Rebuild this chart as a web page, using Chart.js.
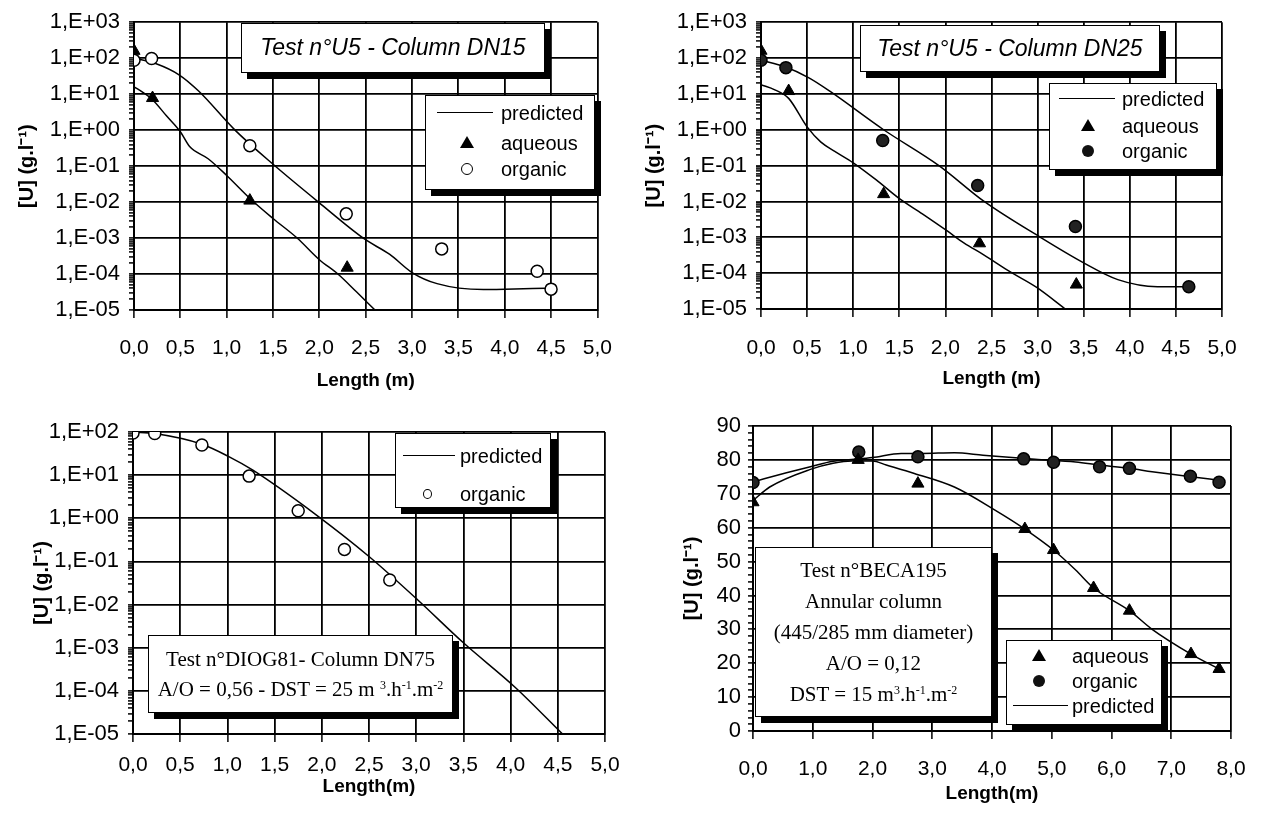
<!DOCTYPE html>
<html lang="en">
<head>
<meta charset="utf-8">
<script src="https://cdn.jsdelivr.net/npm/chart.js@4.4.1/dist/chart.umd.min.js"></script>
<style>
  body { margin: 0; background: #fff; }
  #page { position: relative; width: 1263px; height: 813px; overflow: hidden; font-family: "Liberation Sans", Arial, sans-serif; color: #000; }
  canvas { position: absolute; }
  .box { position: absolute; background: #fff; border: 1.5px solid #000; box-shadow: 6px 6px 0 #000; box-sizing: border-box; }
  .ttl { font-style: italic; font-size: 23px; text-align: center; white-space: nowrap; }
  .serif { font-family: "Liberation Serif", "Times New Roman", serif; font-size: 21px; text-align: center; white-space: nowrap; }
  .row { position: absolute; left: 0; right: 0; height: 0; }
  .row span { position: absolute; top: -12px; font-size: 20px; line-height: 24px; white-space: nowrap; }
  .mk-line { position: absolute; top: -1px; border-top: 1.5px solid #000; }
  .mk-tri { position: absolute; top: -7px; width: 0; height: 0; border-left: 7px solid transparent; border-right: 7px solid transparent; border-bottom: 12px solid #000; margin-left: -7px; }
  .mk-circ { position: absolute; top: -6px; width: 12px; height: 12px; margin-left: -6px; border-radius: 50%; box-sizing: border-box; border: 1.5px solid #000; background: #fff; }
  .mk-dot { position: absolute; top: -6px; width: 12px; height: 12px; margin-left: -6px; border-radius: 50%; background: #111; }
  .mk-o { position: absolute; top: -5px; width: 9px; height: 10px; margin-left: -4px; border-radius: 50%; box-sizing: border-box; border: 1.5px solid #000; }
  sup { font-size: 12px; line-height: 0; vertical-align: 7px; }
</style>
</head>
<body>
<div id="page">
  <canvas id="c1" width="630" height="400" style="left:0;top:0"></canvas>
  <canvas id="c2" width="633" height="400" style="left:630px;top:0"></canvas>
  <canvas id="c3" width="630" height="413" style="left:0;top:400px"></canvas>
  <canvas id="c4" width="633" height="413" style="left:630px;top:400px"></canvas>

  <div class="box ttl" style="left:241px;top:23px;width:304px;height:50px;line-height:47px">Test n°U5 - Column DN15</div>
  <div class="box" style="left:425px;top:95px;width:170px;height:95px">
    <div class="row" style="top:17px"><div class="mk-line" style="left:11px;width:56px"></div><span style="left:75px">predicted</span></div>
    <div class="row" style="top:47px"><div class="mk-tri" style="left:41px"></div><span style="left:75px">aqueous</span></div>
    <div class="row" style="top:73px"><div class="mk-circ" style="left:41px"></div><span style="left:75px">organic</span></div>
  </div>

  <div class="box ttl" style="left:860px;top:25px;width:300px;height:47px;line-height:44px">Test n°U5 - Column DN25</div>
  <div class="box" style="left:1049px;top:83px;width:168px;height:87px">
    <div class="row" style="top:15px"><div class="mk-line" style="left:9px;width:56px"></div><span style="left:72px">predicted</span></div>
    <div class="row" style="top:42px"><div class="mk-tri" style="left:38px"></div><span style="left:72px">aqueous</span></div>
    <div class="row" style="top:67px"><div class="mk-dot" style="left:38px"></div><span style="left:72px">organic</span></div>
  </div>

  <div class="box" style="left:395px;top:433px;width:156px;height:75px">
    <div class="row" style="top:22px"><div class="mk-line" style="left:7px;width:52px"></div><span style="left:64px">predicted</span></div>
    <div class="row" style="top:60px"><div class="mk-o" style="left:31px"></div><span style="left:64px">organic</span></div>
  </div>
  <div class="box serif" style="left:148px;top:635px;width:305px;height:78px;line-height:30px;padding-top:8px">
    Test n°DIOG81- Column DN75<br>A/O = 0,56 - DST = 25 m <sup>3</sup>.h<sup>-1</sup>.m<sup>-2</sup>
  </div>

  <div class="box serif" style="left:755px;top:547px;width:237px;height:170px;line-height:31px;padding-top:7px">
    Test n°BECA195<br>Annular column<br>(445/285 mm diameter)<br>A/O = 0,12<br>DST = 15 m<sup>3</sup>.h<sup>-1</sup>.m<sup>-2</sup>
  </div>
  <div class="box" style="left:1006px;top:640px;width:156px;height:85px">
    <div class="row" style="top:15px"><div class="mk-tri" style="left:32px"></div><span style="left:65px">aqueous</span></div>
    <div class="row" style="top:40px"><div class="mk-dot" style="left:32px"></div><span style="left:65px">organic</span></div>
    <div class="row" style="top:65px"><div class="mk-line" style="left:6px;width:55px"></div><span style="left:65px">predicted</span></div>
  </div>
</div>
<script>
// tick labels
const logTickLabels = ['1,E-05', '1,E-04', '1,E-03', '1,E-02', '1,E-01', '1,E+00', '1,E+01', '1,E+02', '1,E+03'];
const xTickLabels5 = ['0,0', '0,5', '1,0', '1,5', '2,0', '2,5', '3,0', '3,5', '4,0', '4,5', '5,0'];
const xTickLabels8 = ['0,0', '1,0', '2,0', '3,0', '4,0', '5,0', '6,0', '7,0', '8,0'];
const linTickLabels = ['0', '10', '20', '30', '40', '50', '60', '70', '80', '90'];

// Test U5 - DN15
const dn15AqX = [0, 0.2, 1.25, 2.3];
const dn15AqY = [160, 7.8, 0.011, 1.5e-4];
const dn15OrgX = [0, 0.19, 1.25, 2.29, 3.32, 4.35, 4.5];
const dn15OrgY = [87, 98, 0.37, 0.0047, 5e-4, 1.2e-4, 3.8e-5];
const dn15PredOrgX = [0, 0.24, 0.49, 0.7, 1.09, 1.51, 1.99, 2.49, 2.76, 3.0, 3.27, 3.77, 4.44, 4.5];
const dn15PredOrgY = [100, 70, 34, 12, 1.0, 0.107, 0.01, 9.3e-4, 3.5e-4, 1.1e-4, 5.4e-5, 3.7e-5, 4e-5, 3.6e-5];
const dn15PredAqX = [0, 0.1, 0.2, 0.35, 0.5, 0.6, 0.8, 1.0, 1.26, 1.5, 1.76, 2.0, 2.2, 2.4, 2.6];
const dn15PredAqY = [16, 11, 7, 2.5, 0.9, 0.35, 0.16, 0.055, 0.012, 0.0035, 1e-3, 2.5e-4, 1e-4, 3.2e-5, 1e-5];

// Test U5 - DN25
const dn25AqX = [0, 0.3, 1.33, 2.37, 3.42];
const dn25AqY = [160, 12, 0.016, 6.8e-4, 4.8e-5];
const dn25OrgX = [0, 0.27, 1.32, 2.35, 3.41, 4.64];
const dn25OrgY = [87, 54, 0.5, 0.028, 2e-3, 4.2e-5];
const dn25PredOrgX = [0, 0.26, 0.52, 0.75, 1.33, 1.93, 2.42, 3.03, 3.49, 3.87, 4.3, 4.64];
const dn25PredOrgY = [87, 57, 28, 11.7, 1.0, 0.1, 0.01, 1e-3, 2e-4, 6.6e-5, 4.2e-5, 4.2e-5];
const dn25PredAqX = [0, 0.15, 0.3, 0.5, 0.65, 0.8, 1.0, 1.25, 1.49, 1.75, 2.02, 2.2, 2.42, 2.7, 2.99, 3.3];
const dn25PredAqY = [18, 13, 7.5, 1.2, 0.45, 0.25, 0.12, 0.04, 0.0126, 4.5e-3, 1.5e-3, 7e-4, 3.2e-4, 1.1e-4, 4e-5, 1e-5];

// Test DIOG81 - DN75
const dn75OrgX = [0, 0.23, 0.73, 1.23, 1.75, 2.24, 2.72];
const dn75OrgY = [95, 92, 50, 9.5, 1.5, 0.19, 0.037];
const dn75PredX = [0, 0.23, 0.73, 1.0, 1.27, 1.94, 2.5, 3.02, 3.5, 4.05, 4.55];
const dn75PredY = [100, 92, 52, 28, 13, 1.2, 0.13, 0.0126, 1.3e-3, 1.2e-4, 1e-5];

// Test BECA195 - annular column
const becaAqX = [0, 1.76, 2.76, 4.55, 5.03, 5.7, 6.3, 7.33, 7.8];
const becaAqY = [67.5, 80, 73, 59.6, 53.4, 42.2, 35.5, 22.7, 18.3];
const becaOrgX = [0, 1.77, 2.76, 4.53, 5.03, 5.8, 6.3, 7.32, 7.8];
const becaOrgY = [73.3, 82.3, 80.9, 80.3, 79.3, 78, 77.5, 75.2, 73.4];
const becaPredOrgX = [0, 0.56, 0.96, 1.34, 1.65, 2.0, 2.48, 2.83, 3.37, 3.85, 4.72, 5.4, 5.8, 6.3, 6.68, 7.33, 7.8];
const becaPredOrgY = [73.5, 76.2, 78, 79.6, 80.1, 80.7, 81.9, 81.9, 82.1, 81.4, 80.2, 79.4, 78.5, 77.5, 76.5, 75, 74];
const becaPredAqX = [0, 0.28, 0.96, 1.34, 1.65, 2.0, 2.23, 2.7, 3.37, 4.05, 4.55, 5.03, 5.4, 5.7, 6.3, 6.68, 7.33, 7.8];
const becaPredAqY = [68, 72, 77.2, 79, 79.7, 79.7, 78.5, 76, 72, 65.2, 59.6, 53.4, 47.5, 42.2, 35.5, 30, 22.7, 18.3];

const tickFont = { family: '"Liberation Sans", Arial, sans-serif', size: 21 };
const yTickFont = { family: '"Liberation Sans", Arial, sans-serif', size: 22 };
const titleFont = { family: '"Liberation Sans", Arial, sans-serif', size: 19, weight: 'bold' };
const yTitleFont = { family: '"Liberation Sans", Arial, sans-serif', size: 20, weight: 'bold' };
const yTitle = '[U] (g.l⁻¹)';

const pts = (xs, ys) => xs.map((x, i) => ({ x: x, y: ys[i] }));

const triangles = (xs, ys) => ({ data: pts(xs, ys), pointStyle: 'triangle', pointRadius: 7, backgroundColor: '#000', borderColor: '#000', borderWidth: 1 });
const openCircles = (xs, ys) => ({ data: pts(xs, ys), pointStyle: 'circle', pointRadius: 6, backgroundColor: '#fff', borderColor: '#000', borderWidth: 1.5 });
const dots = (xs, ys) => ({ data: pts(xs, ys), pointStyle: 'circle', pointRadius: 6, backgroundColor: '#222', borderColor: '#000', borderWidth: 1.5 });
const curve = (xs, ys) => ({ data: pts(xs, ys), showLine: true, pointRadius: 0, borderColor: '#000', borderWidth: 1.5, cubicInterpolationMode: 'monotone' });

function logScale(minExp, maxExp, L) {
  return {
    type: 'logarithmic', min: Math.pow(10, minExp), max: Math.pow(10, maxExp),
    afterBuildTicks: axis => {
      const t = [];
      for (let e = minExp; e < maxExp; e++) {
        for (let m = 1; m < 10; m++) t.push({ value: m * Math.pow(10, e), major: m === 1 });
      }
      t.push({ value: Math.pow(10, maxExp), major: true });
      axis.ticks = t;
    },
    ticks: {
      autoSkip: false, padding: L.yPad, color: '#000', font: yTickFont,
      callback: (v, i, ticks) => ticks[i].major ? logTickLabels[Math.round(Math.log10(v)) + 5] : ''
    },
    grid: {
      color: c => (c.tick && c.tick.major) ? '#000' : 'rgba(0,0,0,0)',
      lineWidth: 1.8, tickLength: 5, tickColor: '#000', tickWidth: 1.5
    }
  };
}

function linScale(L) {
  return {
    type: 'linear', min: 0, max: 90,
    afterBuildTicks: axis => {
      const t = [];
      for (let v = 0; v <= 90; v += 2) t.push({ value: v, major: v % 10 === 0 });
      axis.ticks = t;
    },
    ticks: {
      autoSkip: false, padding: L.yPad, color: '#000', font: yTickFont,
      callback: (v, i, ticks) => ticks[i].major ? linTickLabels[v / 10] : ''
    },
    grid: {
      color: c => (c.tick && c.tick.major) ? '#000' : 'rgba(0,0,0,0)',
      lineWidth: 1.8, tickLength: 5, tickColor: '#000', tickWidth: 1.5
    }
  };
}

function makeChart(id, L, yScale, xLabels, xStep, xTitle, datasets) {
  yScale.afterFit = axis => { axis.width = L.left; };
  yScale.border = { color: '#000', width: 2 };
  yScale.title = { display: true, text: yTitle, color: '#000', font: yTitleFont, padding: { top: L.yTitleX - 12, bottom: 0 } };
  new Chart(document.getElementById(id), {
    type: 'scatter',
    data: { datasets: datasets },
    options: {
      responsive: false, animation: false, events: [],
      layout: { padding: { left: 0, top: L.top, right: L.w - L.right, bottom: 0 } },
      plugins: { legend: { display: false }, tooltip: { enabled: false } },
      scales: {
        x: {
          type: 'linear', min: 0, max: (xLabels.length - 1) * xStep,
          afterBuildTicks: axis => { axis.ticks = xLabels.map((_, i) => ({ value: i * xStep })); },
          afterFit: axis => { axis.height = L.h - L.bottom; },
          grid: { color: '#000', lineWidth: 1.8, tickLength: 8, tickColor: '#000', tickWidth: 1.5 },
          border: { color: '#000', width: 2 },
          ticks: { autoSkip: false, maxRotation: 0, padding: L.xPad, color: '#000', font: tickFont, callback: (v, i) => xLabels[i] },
          title: { display: true, text: xTitle, color: '#000', font: titleFont, padding: { top: 0, bottom: L.xTitlePad } }
        },
        y: yScale
      }
    }
  });
}

const L1 = { w: 630, h: 400, left: 134, top: 18, right: 606, bottom: 310, xPad: 18, xTitlePad: 7.6, yTitleX: 27, yPad: 9 };
const L2 = { w: 633, h: 400, left: 131, top: 18, right: 592, bottom: 309, xPad: 18.4, xTitlePad: 9.6, yTitleX: 24, yPad: 9 };
const L3 = { w: 630, h: 413, left: 133, top: 32, right: 606, bottom: 334, xPad: 10.4, xTitlePad: 14.6, yTitleX: 42, yPad: 9 };
const L4 = { w: 633, h: 413, left: 123, top: 26, right: 603, bottom: 331, xPad: 17.4, xTitlePad: 7.6, yTitleX: 62, yPad: 7 };

makeChart('c1', L1, logScale(-5, 3, L1), xTickLabels5, 0.5, 'Length (m)', [
  triangles(dn15AqX, dn15AqY), openCircles(dn15OrgX, dn15OrgY),
  curve(dn15PredOrgX, dn15PredOrgY), curve(dn15PredAqX, dn15PredAqY)
]);
makeChart('c2', L2, logScale(-5, 3, L2), xTickLabels5, 0.5, 'Length (m)', [
  triangles(dn25AqX, dn25AqY), dots(dn25OrgX, dn25OrgY),
  curve(dn25PredOrgX, dn25PredOrgY), curve(dn25PredAqX, dn25PredAqY)
]);
makeChart('c3', L3, logScale(-5, 2, L3), xTickLabels5, 0.5, 'Length(m)', [
  openCircles(dn75OrgX, dn75OrgY), curve(dn75PredX, dn75PredY)
]);
makeChart('c4', L4, linScale(L4), xTickLabels8, 1, 'Length(m)', [
  triangles(becaAqX, becaAqY), dots(becaOrgX, becaOrgY),
  curve(becaPredOrgX, becaPredOrgY), curve(becaPredAqX, becaPredAqY)
]);
</script>
</body>
</html>
